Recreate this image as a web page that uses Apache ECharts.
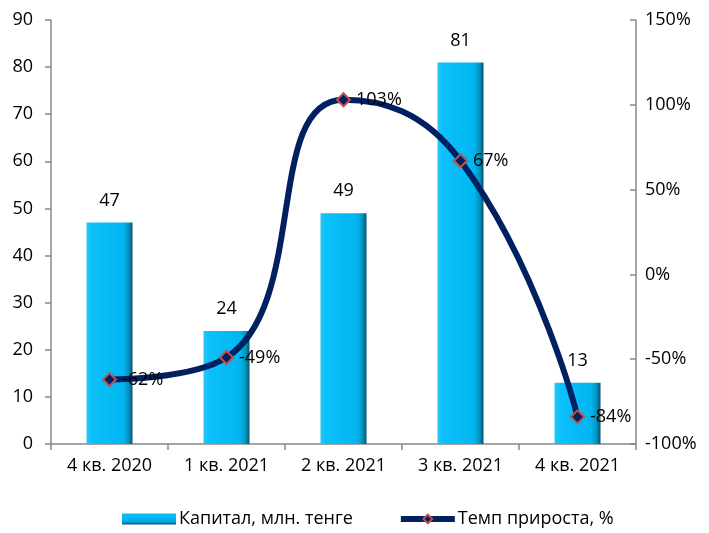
<!DOCTYPE html>
<html><head><meta charset="utf-8">
<script src="https://cdn.jsdelivr.net/npm/echarts@6/dist/echarts.min.js"></script>
<style>html,body{margin:0;padding:0;background:#fff}#c{width:709px;height:533px}</style>
</head><body><div id="c"></div>
<script>
const categories = ['4 кв. 2020', '1 кв. 2021', '2 кв. 2021', '3 кв. 2021', '4 кв. 2021'];
const capital = [47, 24, 49, 81, 13];
const growth = [-62, -49, 103, 67, -84];
const seriesNames = ['Капитал, млн. тенге', 'Темп прироста, %'];

const font = 'Open Sans, Noto Sans, sans-serif';
const barGrad = new echarts.graphic.LinearGradient(0, 0, 1, 0, [
  {offset: 0, color: '#27c8f5'},
  {offset: 0.12, color: '#0cc0fb'},
  {offset: 0.8, color: '#00b6f0'},
  {offset: 0.92, color: '#0490bb'},
  {offset: 1, color: '#04536b'}
]);
const legendGrad = new echarts.graphic.LinearGradient(0, 0, 0, 1, [
  {offset: 0, color: '#1fb0e0'},
  {offset: 0.3, color: '#00bfff'},
  {offset: 0.75, color: '#00a8e0'},
  {offset: 1, color: '#04536b'}
]);
const chart = echarts.init(document.getElementById('c'));
chart.setOption({
  animation: false,
  textStyle: {fontFamily: font},
  grid: {left: 51, right: 73, top: 20, bottom: 89},
  legend: {
    bottom: 0, left: 117, itemGap: 45,
    textStyle: {fontSize: 18, color: '#000', fontFamily: font, padding: [0, 0, 0, -2]},
    data: [
      {name: seriesNames[0], icon: 'rect', itemStyle: {color: legendGrad}},
      {name: seriesNames[1], lineStyle: {width: 6, color: '#002060'}}
    ],
    itemWidth: 54, itemHeight: 11
  },
  xAxis: {
    type: 'category', data: categories,
    axisLine: {lineStyle: {color: '#888', width: 1.5}},
    axisTick: {show: true, length: 6, lineStyle: {color: '#888', width: 1.5}},
    axisLabel: {fontSize: 18, color: '#000', margin: 13, fontFamily: font}
  },
  yAxis: [
    {type: 'value', min: 0, max: 90, interval: 10,
     axisLine: {show: true, lineStyle: {color: '#888', width: 1.5}},
     axisTick: {show: true, length: 6, lineStyle: {color: '#888', width: 1.5}},
     splitLine: {show: false},
     axisLabel: {fontSize: 18, color: '#000', margin: 18, fontFamily: font}},
    {type: 'value', min: -100, max: 150, interval: 50, position: 'right',
     axisLine: {show: true, lineStyle: {color: '#888', width: 1.5}},
     axisTick: {show: true, inside: true, length: 6, lineStyle: {color: '#888', width: 1.5}},
     splitLine: {show: false},
     axisLabel: {fontSize: 18, color: '#000', margin: 9, fontFamily: font, formatter: '{value}%'}}
  ],
  series: [
    {name: seriesNames[0], type: 'bar', data: capital, barWidth: 46,
     itemStyle: {color: barGrad},
     label: {show: true, position: 'top', distance: 13, fontSize: 18, color: '#000', fontFamily: font}},
    {name: seriesNames[1], type: 'line', yAxisIndex: 1, data: growth, smooth: 0.5, z: 5,
     lineStyle: {color: '#002060', width: 6},
     symbol: 'diamond', symbolSize: 13,
     itemStyle: {color: '#002060', borderColor: '#c0504d', borderWidth: 2},
     label: {show: true, position: 'right', distance: 5, fontSize: 18, color: '#000', fontFamily: font, formatter: '{c}%'}}
  ]
});
</script></body></html>
